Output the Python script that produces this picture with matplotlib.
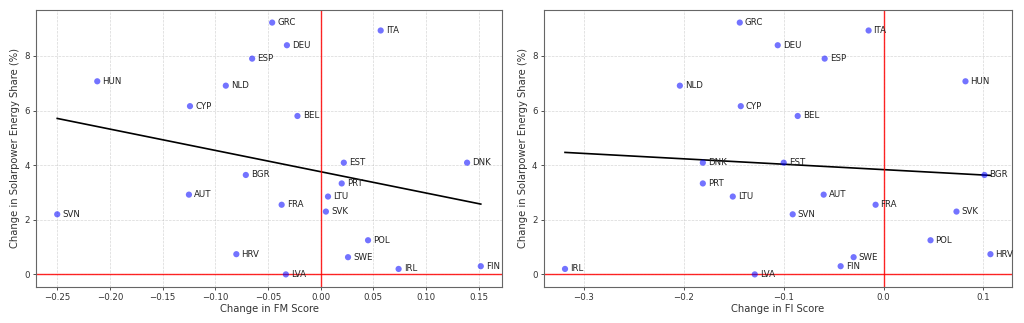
import numpy as np
import matplotlib
matplotlib.use('Agg')
import matplotlib.pyplot as plt

# Country codes and values
countries = ['GRC', 'ITA', 'DEU', 'ESP', 'HUN', 'NLD', 'CYP', 'BEL', 'EST', 'DNK', 'BGR', 'PRT',
             'AUT', 'LTU', 'FRA', 'SVK', 'SVN', 'POL', 'HRV', 'SWE', 'IRL', 'FIN', 'LVA']
solar_change = [9.22, 8.93, 8.39, 7.90, 7.07, 6.91, 6.16, 5.80, 4.09, 4.09, 3.64, 3.33,
                2.92, 2.85, 2.55, 2.30, 2.20, 1.25, 0.74, 0.63, 0.20, 0.30, 0.0]
fm_change = [-0.046, 0.057, -0.032, -0.065, -0.212, -0.090, -0.124, -0.022, 0.022, 0.139, -0.071, 0.020,
             -0.125, 0.007, -0.037, 0.005, -0.250, 0.045, -0.080, 0.026, 0.074, 0.152, -0.033]
fi_change = [-0.144, -0.015, -0.106, -0.059, 0.082, -0.204, -0.143, -0.086, -0.100, -0.181, 0.101, -0.181,
             -0.060, -0.151, -0.008, 0.073, -0.091, 0.047, 0.107, -0.030, -0.319, -0.043, -0.129]

fig = plt.figure(figsize=(10.24, 3.23), dpi=100)
ax1 = fig.add_axes([0.0352, 0.1115, 0.455, 0.8576])
ax2 = fig.add_axes([0.531, 0.1115, 0.457, 0.8576])


def draw_panel(ax, x, y, xlabel):
    x = np.array(x)
    y = np.array(y)
    ax.scatter(x, y, color='blue', alpha=0.55, s=20, edgecolors='none', zorder=3)
    for xi, yi, name in zip(x, y, countries):
        ax.text(xi + 0.005, yi, name, fontsize=6.2, va='center', ha='left', color='#222222')
    # linear fit
    m, b = np.polyfit(x, y, 1)
    xs = np.array([x.min(), x.max()])
    ax.plot(xs, m * xs + b, color='black', linewidth=1.2, zorder=2)
    ax.axhline(0, color='red', linewidth=1, alpha=0.85)
    ax.axvline(0, color='red', linewidth=1, alpha=0.85)
    ax.grid(True, linestyle='--', linewidth=0.5, alpha=0.5)
    ax.set_xlabel(xlabel, fontsize=7.2, color='#333333', labelpad=1.5)
    ax.set_ylabel('Change in Solarpower Energy Share (%)', fontsize=7.2, color='#333333', labelpad=3)
    ax.tick_params(labelsize=6.2, length=2.5, width=0.6, pad=2, colors='#333333')
    for sp in ax.spines.values():
        sp.set_color('#666666')
        sp.set_linewidth(0.8)


draw_panel(ax1, fm_change, solar_change, 'Change in FM Score')
draw_panel(ax2, fi_change, solar_change, 'Change in FI Score')

fig.savefig('out.png', dpi=100)
